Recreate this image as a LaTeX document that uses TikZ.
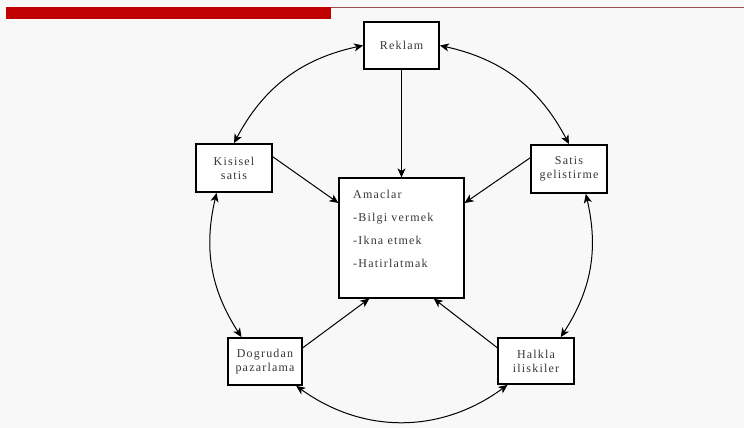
\documentclass[tikz,border=0pt]{standalone}
\usepackage{fontspec}
\setmainfont{Liberation Serif}[LetterSpace=10]
\usetikzlibrary{arrows.meta}
\definecolor{bg}{RGB}{248,248,248}
\definecolor{barred}{RGB}{192,0,0}
\definecolor{txt}{RGB}{55,55,55}
\tikzset{
  box/.style={draw=black, line width=1.8pt, fill=white, text=txt, align=center,
    font=\fontsize{12}{14}\selectfont, inner sep=0pt, minimum width=75pt, minimum height=47pt},
  conn/.style={line width=1pt, draw=black, -{Stealth[length=9pt,width=8pt,inset=2.5pt]}},
  dconn/.style={line width=1pt, draw=black, {Stealth[length=9pt,width=8pt,inset=2.5pt]}-{Stealth[length=9pt,width=8pt,inset=2.5pt]}}
}
\begin{document}
\begin{tikzpicture}[x=1pt,y=-1pt]
\fill[bg] (0,0) rectangle (744,428);
\useasboundingbox (0,0) rectangle (744,428);
\fill[barred] (6,7) rectangle (331,19);
\draw[barred!60!black!70, line width=0.8pt] (331,7.3) -- (744,7.3);

\node[box] (reklam) at (401.5,45.5) {Reklam};
\node[box, minimum width=76pt, minimum height=48pt] (kisisel) at (234,168) {Kisisel\\satis};
\node[box, minimum width=76pt, minimum height=48pt] (satis) at (569,169) {Satis\\gelistirme};
\node[box, minimum width=74pt, minimum height=47pt] (dogrudan) at (265,361.5) {Dogrudan\\pazarlama};
\node[box, minimum width=76pt, minimum height=46pt] (halkla) at (536,361) {Halkla\\iliskiler};
\node[box, line width=1.2pt, minimum width=125pt, minimum height=120pt] (amaclar) at (401.5,238) {};
\node[anchor=north west, inner sep=0pt, align=left, text=txt,
  font=\fontsize{12}{23}\selectfont] (amtext) at (353,190) {Amaclar\\-Bilgi vermek\\-Ikna etmek\\-Hatirlatmak};

% straight arrows
\draw[conn] (reklam.south) -- (amaclar.north);
\draw[conn] (kisisel.16) -- (amaclar.151);
\draw[conn] (satis.164) -- (amaclar.29);
\draw[conn] (dogrudan.20) -- (amaclar.-118);
\draw[conn] (halkla.161) -- (amaclar.-62);

% circle arcs
\draw[dconn] (reklam.west) to[bend right=25] (kisisel.north);
\draw[dconn] (reklam.east) to[bend left=25] (satis.north);
\draw[dconn] (kisisel.-125) to[bend right=23] (dogrudan.134);
\draw[dconn] (satis.-56) to[bend left=23] (halkla.44);
\draw[dconn] (dogrudan.-38) to[bend right=36] (halkla.-140);
\end{tikzpicture}
\end{document}
